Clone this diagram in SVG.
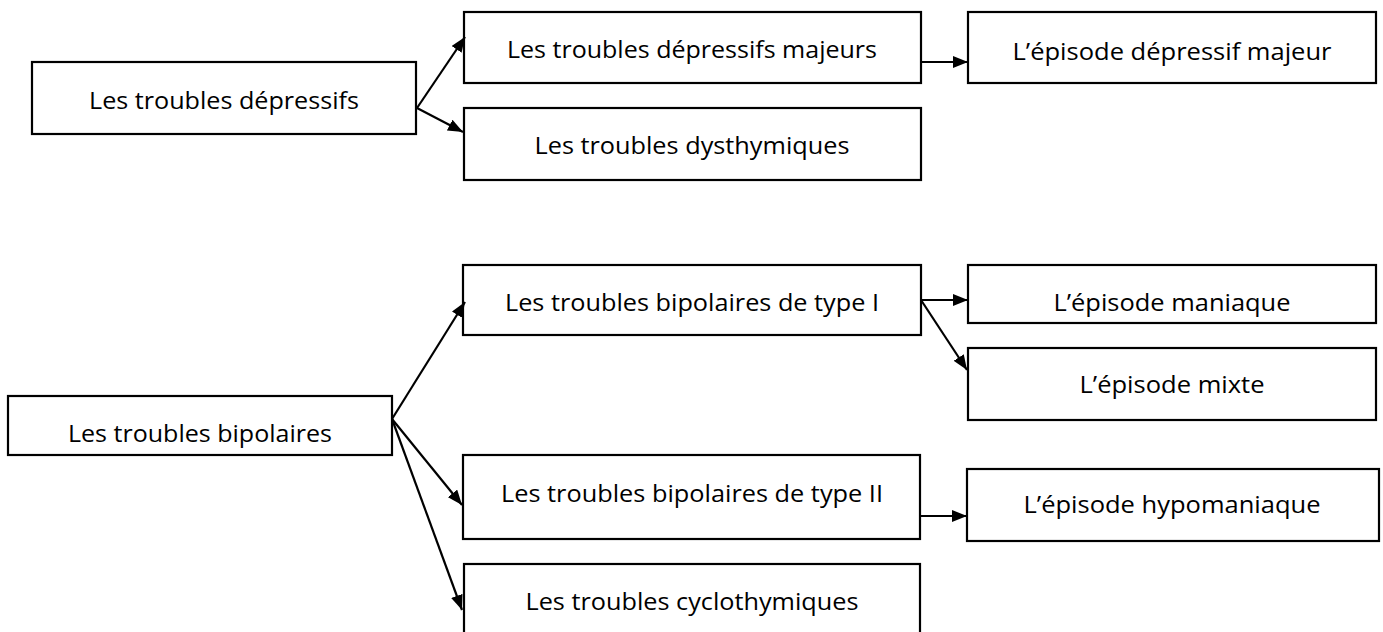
<svg xmlns="http://www.w3.org/2000/svg" width="1383" height="632" viewBox="0 0 1383 632">
<style>
rect{fill:#fff;stroke:#000;stroke-width:2.2}
text{font-family:"Open Sans","Liberation Sans",sans-serif;font-size:23px;fill:#000;text-anchor:middle}
.c line{stroke:#000;stroke-width:2.2;marker-end:url(#ah)}
</style>
<defs>
<marker id="ah" markerUnits="userSpaceOnUse" markerWidth="15" markerHeight="12" refX="15" refY="6" orient="auto">
<path d="M0,0 L15,6 L0,12 z" fill="#000"/>
</marker>
</defs>
<g id="n-depressifs"><rect x="32" y="62" width="384" height="72"/><text x="224" y="109" textLength="270" lengthAdjust="spacingAndGlyphs">Les troubles dépressifs</text></g>
<g id="n-majeurs"><rect x="464" y="12" width="457" height="71"/><text x="692" y="58" textLength="370" lengthAdjust="spacingAndGlyphs">Les troubles dépressifs majeurs</text></g>
<g id="n-dysthymiques"><rect x="464" y="108" width="457" height="72"/><text x="692" y="154" textLength="315" lengthAdjust="spacingAndGlyphs">Les troubles dysthymiques</text></g>
<g id="n-episode-dep"><rect x="968" y="12" width="408" height="71"/><text x="1172" y="60" textLength="319" lengthAdjust="spacingAndGlyphs">L’épisode dépressif majeur</text></g>
<g id="n-bipolaires"><rect x="8" y="396" width="384" height="59"/><text x="200" y="442" textLength="264" lengthAdjust="spacingAndGlyphs">Les troubles bipolaires</text></g>
<g id="n-type1"><rect x="463" y="265" width="458" height="70"/><text x="692" y="311" textLength="374" lengthAdjust="spacingAndGlyphs">Les troubles bipolaires de type I</text></g>
<g id="n-maniaque"><rect x="968" y="265" width="408" height="58"/><text x="1172" y="311" textLength="237" lengthAdjust="spacingAndGlyphs">L’épisode maniaque</text></g>
<g id="n-mixte"><rect x="968" y="348" width="408" height="72"/><text x="1172" y="393" textLength="185" lengthAdjust="spacingAndGlyphs">L’épisode mixte</text></g>
<g id="n-type2"><rect x="463" y="455" width="457" height="84"/><text x="692" y="502" textLength="382" lengthAdjust="spacingAndGlyphs">Les troubles bipolaires de type II</text></g>
<g id="n-cyclothymiques"><rect x="464" y="564" width="456" height="84"/><text x="692" y="610" textLength="333" lengthAdjust="spacingAndGlyphs">Les troubles cyclothymiques</text></g>
<g id="n-hypomaniaque"><rect x="967" y="469" width="412" height="72"/><text x="1172" y="513" textLength="297" lengthAdjust="spacingAndGlyphs">L’épisode hypomaniaque</text></g>
<g class="c" id="connectors">
<line x1="417" y1="108" x2="465" y2="37"/>
<line x1="417" y1="108" x2="463" y2="132"/>
<line x1="921" y1="62" x2="968" y2="62"/>
<line x1="392" y1="419" x2="465" y2="302"/>
<line x1="392" y1="419" x2="462" y2="505"/>
<line x1="392" y1="419" x2="462" y2="610"/>
<line x1="921" y1="300" x2="968" y2="300"/>
<line x1="921" y1="300" x2="967" y2="370"/>
<line x1="921" y1="516" x2="967" y2="516"/>
</g>
</svg>
